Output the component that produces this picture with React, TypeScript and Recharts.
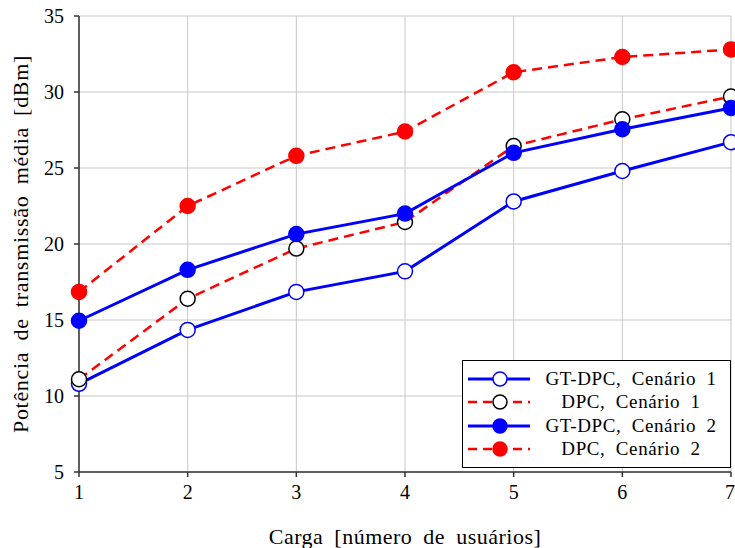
import React from 'react';
import { LineChart, Line, XAxis, YAxis, CartesianGrid } from 'recharts';

const loads = [1, 2, 3, 4, 5, 6, 7];
const gtDpcC1 = [10.8, 14.35, 16.85, 18.2, 22.8, 24.8, 26.7];
const dpcC1 = [11.1, 16.4, 19.7, 21.45, 26.45, 28.2, 29.7];
const gtDpcC2 = [14.95, 18.3, 20.65, 22.0, 26.0, 27.55, 28.95];
const dpcC2 = [16.85, 22.5, 25.8, 27.4, 31.3, 32.3, 32.8];
const yTicks = [5, 10, 15, 20, 25, 30, 35];
const seriesNames = ['GT-DPC, Cenário 1', 'DPC, Cenário 1', 'GT-DPC, Cenário 2', 'DPC, Cenário 2'];

const data = loads.map((x, i) => ({
  x,
  a: gtDpcC1[i],
  b: dpcC1[i],
  c: gtDpcC2[i],
  d: dpcC2[i],
}));

const FONT = '"Liberation Serif", "Times New Roman", "DejaVu Serif", serif';

const legendItems = [
  { name: seriesNames[0], stroke: '#0000ff', dash: undefined, mFill: '#ffffff', mStroke: '#0000ff', w: 3 },
  { name: seriesNames[1], stroke: '#ff0000', dash: '9 6', mFill: '#ffffff', mStroke: '#000000', w: 2.5 },
  { name: seriesNames[2], stroke: '#0000ff', dash: undefined, mFill: '#0000ff', mStroke: '#0000ff', w: 3 },
  { name: seriesNames[3], stroke: '#ff0000', dash: '9 6', mFill: '#ff0000', mStroke: '#ff0000', w: 2.5 },
];

const LegendBox = () => (
  <div
    style={{
      position: 'absolute',
      left: 462,
      top: 360,
      width: 269,
      height: 108,
      border: '1px solid #000',
      background: '#fff',
      boxSizing: 'border-box',
      fontFamily: FONT,
      fontSize: 19,
      wordSpacing: 5,
      letterSpacing: 0.6,
      paddingTop: 6,
    }}
  >
    {legendItems.map((it) => (
      <div key={it.name} style={{ display: 'flex', alignItems: 'center', height: 23.5 }}>
        <svg width={68} height={20} style={{ marginLeft: 5, flex: 'none' }}>
          <line x1={0} y1={10} x2={62} y2={10} stroke={it.stroke} strokeWidth={it.w} strokeDasharray={it.dash} />
          <circle cx={32} cy={10} r={7} fill={it.mFill} stroke={it.mStroke} strokeWidth={1.5} />
        </svg>
        <span style={{ flex: 1, textAlign: 'center', whiteSpace: 'nowrap', marginRight: 4 }}>{it.name}</span>
      </div>
    ))}
  </div>
);

const dot = (fill: string, stroke: string) => ({ r: 7.5, fill, stroke, strokeWidth: 1.5, strokeDasharray: '0' });

export default function App() {
  return (
    <div style={{ position: 'absolute', left: 0, top: 0, width: 735, height: 548, background: '#fff' }}>
      <LineChart width={735} height={548} data={data} margin={{ top: 16, right: 4, left: 0, bottom: 0 }}>
        <CartesianGrid stroke="#c8c8c8" strokeWidth={1} />
        <XAxis
          dataKey="x"
          type="number"
          domain={[1, 7]}
          ticks={loads}
          height={76}
          stroke="#333"
          strokeWidth={1.5}
          tickSize={5}
          tick={{ fontFamily: FONT, fontSize: 20, fill: '#000', dy: 6 }}
          label={{ value: 'Carga [número de usuários]', position: 'insideBottom', offset: 4, style: { fontFamily: FONT, fontSize: 22, wordSpacing: 5, letterSpacing: 0.5, fill: '#000' } }}
        />
        <XAxis xAxisId="top" orientation="top" dataKey="x" type="number" domain={[1, 7]} height={0} tick={false} tickLine={false} stroke="#333" strokeWidth={1.5} />
        <YAxis
          type="number"
          domain={[5, 35]}
          ticks={yTicks}
          width={79}
          stroke="#333"
          strokeWidth={1.5}
          tickSize={5}
          tick={{ fontFamily: FONT, fontSize: 20, fill: '#000', dx: -8 }}
          label={{ value: 'Potência de transmissão média [dBm]', angle: -90, position: 'insideLeft', offset: 20, style: { fontFamily: FONT, fontSize: 22, wordSpacing: 5, letterSpacing: 0.7, fill: '#000', textAnchor: 'middle' } }}
        />
        <YAxis yAxisId="right" orientation="right" domain={[5, 35]} width={0} tick={false} tickLine={false} stroke="#333" strokeWidth={1.5} />
        <Line dataKey="a" name={seriesNames[0]} stroke="#0000ff" strokeWidth={3} dot={dot('#ffffff', '#0000ff')} isAnimationActive={false} />
        <Line dataKey="b" name={seriesNames[1]} stroke="#ff0000" strokeWidth={2.5} strokeDasharray="10 6" dot={dot('#ffffff', '#000000')} isAnimationActive={false} />
        <Line dataKey="c" name={seriesNames[2]} stroke="#0000ff" strokeWidth={3} dot={dot('#0000ff', '#0000ff')} isAnimationActive={false} />
        <Line dataKey="d" name={seriesNames[3]} stroke="#ff0000" strokeWidth={2.5} strokeDasharray="10 6" dot={dot('#ff0000', '#ff0000')} isAnimationActive={false} />
      </LineChart>
      <LegendBox />
    </div>
  );
}
